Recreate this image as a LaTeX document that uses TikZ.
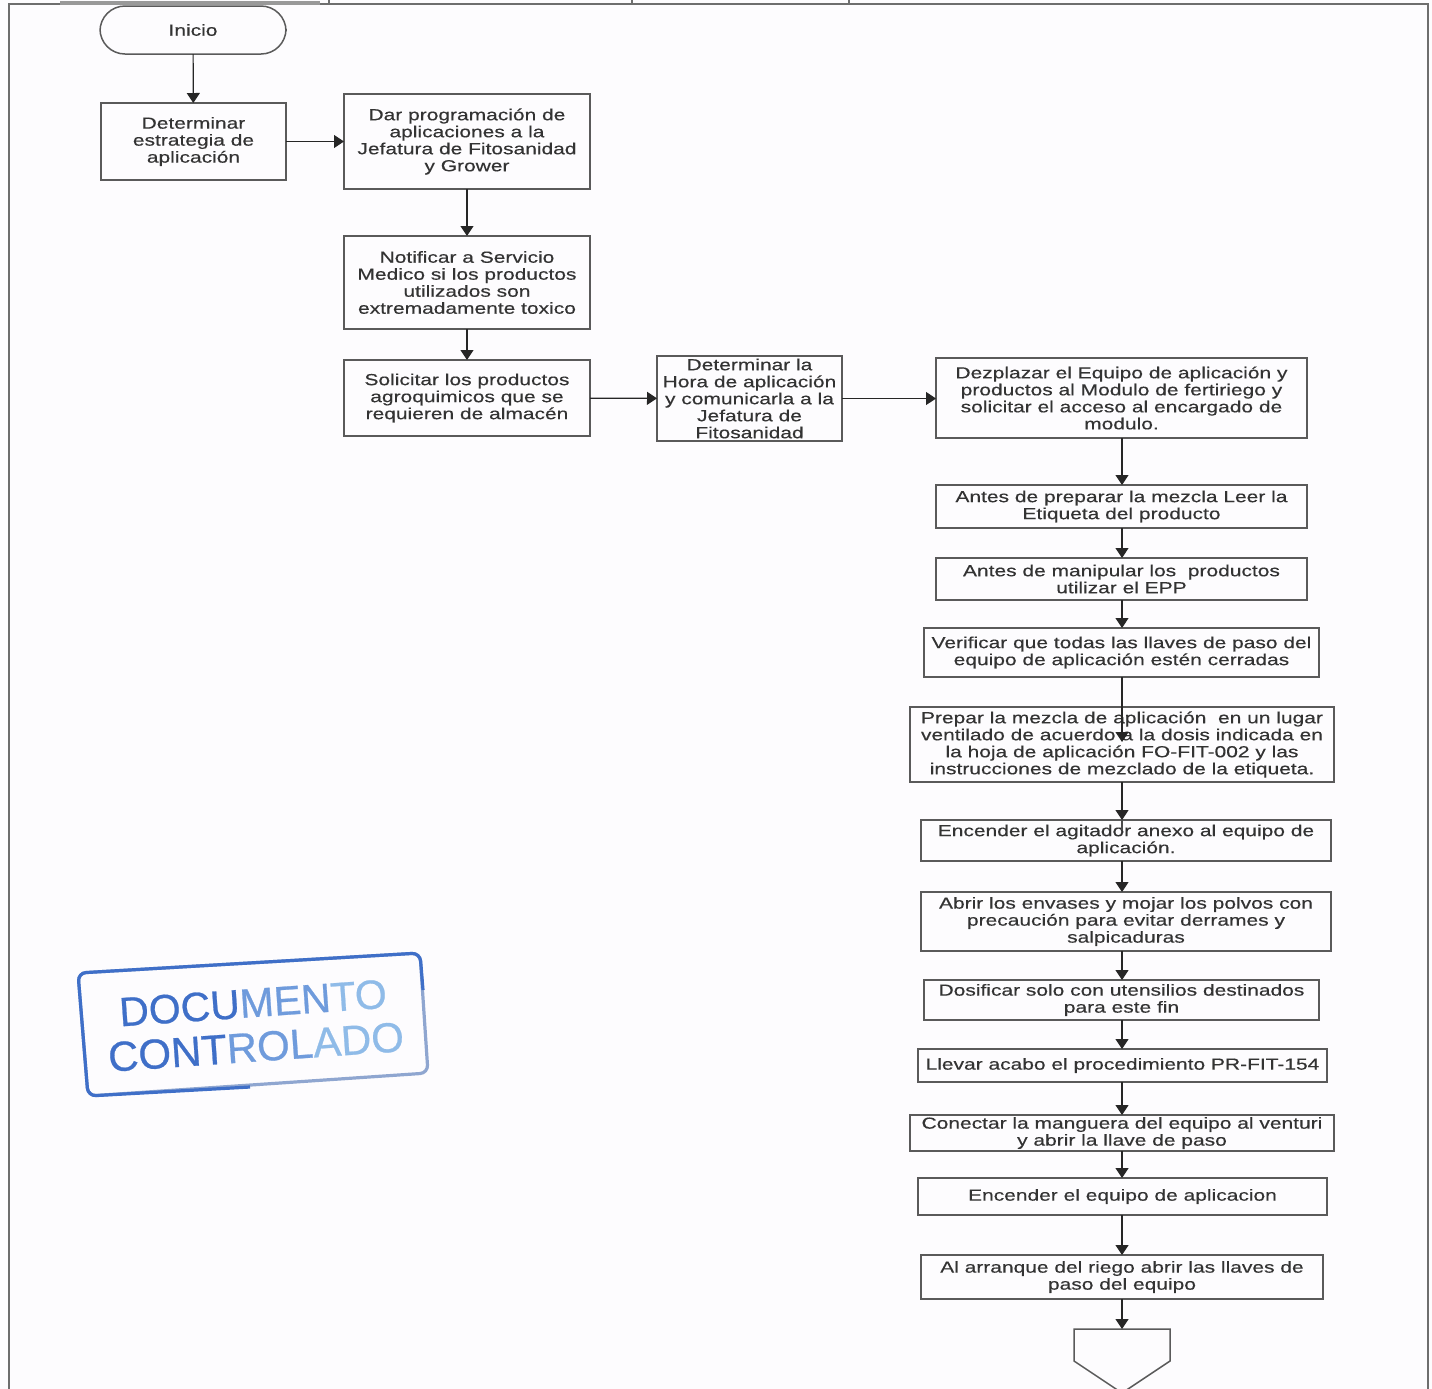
\documentclass[tikz,border=0pt]{standalone}
\usepackage{fontspec}
\setmainfont[FakeStretch=1.31,FakeBold=0.35]{Liberation Sans}
\newfontfamily\stampfont[FakeBold=0.6]{Liberation Sans}
\usetikzlibrary{arrows.meta}
\definecolor{ink}{HTML}{333333}
\definecolor{edge}{HTML}{5A5A5A}
\definecolor{framec}{HTML}{6E6E6E}
\definecolor{paper}{HTML}{FDFCFE}
\definecolor{stampa}{HTML}{3F6FC8}
\definecolor{stampb}{HTML}{6F9BDC}
\definecolor{stampc}{HTML}{8FBBE8}
\definecolor{stampd}{HTML}{8FA6D0}
\tikzset{
  flowbox/.style={draw=edge,line width=0.75pt,fill=paper,inner sep=0pt,outer sep=0pt,align=center,text=ink,font=\fontsize{8}{8.5}\selectfont},
  flowarrow/.style={draw=black!85,line width=0.6pt,-{Triangle[length=5pt,width=6.5pt]}},
  plainline/.style={draw=black!70,line width=0.6pt},
  framerule/.style={draw=framec,line width=1.1pt},
  stampborder/.style={line width=1.6pt,rounded corners=4pt},
  stamptext/.style={rotate=4,inner sep=0pt},
}
\newcommand\bx[7][]{\node[flowbox,#1,minimum width={(#5-#3)*0.5pt},minimum height={(#6-#4)*0.5pt}] (#2) at ({(#3+#5)/2},{(#4+#6)/2}) {#7};}
\begin{document}
\begin{tikzpicture}[x=0.5pt,y=-0.5pt]
\useasboundingbox (0,0) rectangle (1432,1389);
\fill[paper] (0,0) rectangle (1432,1389);
% page frame
\draw[framerule] (9,1389) -- (9,4) -- (1428,4) -- (1428,1389);
\draw[draw=framec!70,line width=1.8pt] (60,3) -- (320,3);
\draw[framerule] (329,0) -- (329,4);
\draw[framerule] (632,0) -- (632,4);
\draw[framerule] (849,0) -- (849,4);
% nodes
\bx[rounded corners=12.5pt]{inicio}{100}{6}{286}{54}{Inicio}
\bx{det}{101}{103}{286}{180}{Determinar\\estrategia de\\aplicación}
\bx{dar}{344}{94}{590}{189}{Dar programación de\\aplicaciones a la\\Jefatura de Fitosanidad\\y Grower}
\bx{not}{344}{236}{590}{329}{Notificar a Servicio\\Medico si los productos\\utilizados son\\extremadamente toxico}
\bx{sol}{344}{360}{590}{436}{Solicitar los productos\\agroquimicos que se\\requieren de almacén}
\bx{hora}{657}{356}{842}{441}{Determinar la\\Hora de aplicación\\y comunicarla a la\\Jefatura de\\Fitosanidad}
\bx{dez}{936}{358}{1307}{438}{Dezplazar el Equipo de aplicación y\\productos al Modulo de fertiriego y\\solicitar el acceso al encargado de\\modulo.}
\bx{antes}{936}{485}{1307}{528}{Antes de preparar la mezcla Leer la\\Etiqueta del producto}
\bx{man}{936}{558}{1307}{600}{Antes de manipular los \ productos\\utilizar el EPP}
\bx{ver}{924}{628}{1319}{677}{Verificar que todas las llaves de paso del\\equipo de aplicación estén cerradas}
\bx{prep}{910}{707}{1334}{782}{Prepar la mezcla de aplicación \ en un lugar\\ventilado de acuerdo a la dosis indicada en\\la hoja de aplicación FO-FIT-002 y las\\instrucciones de mezclado de la etiqueta.}
\bx{enc}{921}{820}{1331}{861}{Encender el agitador anexo al equipo de\\aplicación.}
\bx{abr}{921}{892}{1331}{951}{Abrir los envases y mojar los polvos con\\precaución para evitar derrames y\\salpicaduras}
\bx{dos}{924}{980}{1319}{1020}{Dosificar solo con utensilios destinados\\para este fin}
\bx{lle}{918}{1049}{1327}{1082}{Llevar acabo el procedimiento PR-FIT-154}
\bx{con}{910}{1115}{1334}{1151}{Conectar la manguera del equipo al venturi\\y abrir la llave de paso}
\bx{eq}{918}{1178}{1327}{1215}{Encender el equipo de aplicacion}
\bx{arr}{921}{1255}{1323}{1299}{Al arranque del riego abrir las llaves de\\paso del equipo}
% off-page connector
\coordinate (spine) at (1122,0);
\coordinate (off) at (1122,1329);
\coordinate (prepin) at (1122,742);
\coordinate (encin) at (1122,830);
\begin{scope}
\clip (0,0) rectangle (1432,1389);
\draw[draw=edge,line width=0.75pt] (1074,1329) -- (off) -- (1170,1329) -- (1170,1361) -- (1122,1393) -- (1074,1361) -- cycle;
\end{scope}
% connectors
\draw[flowarrow] (inicio) -- (det);
\draw[flowarrow] (det) -- (dar);
\draw[flowarrow] (dar) -- (not);
\draw[flowarrow] (not) -- (sol);
\draw[flowarrow] (sol) -- (hora);
\draw[flowarrow] (hora.east) -- (hora.east -| dez.west);
\draw[flowarrow] (dez.south -| spine) -- (antes.north -| spine);
\draw[flowarrow] (antes.south -| spine) -- (man.north -| spine);
\draw[flowarrow] (man.south -| spine) -- (ver.north -| spine);
\draw[flowarrow] (ver.south -| spine) -- (prepin);
\draw[flowarrow] (prep.south -| spine) -- (enc.north -| spine);
\draw[plainline] (enc.north -| spine) -- (encin);
\draw[flowarrow] (enc.south -| spine) -- (abr.north -| spine);
\draw[flowarrow] (abr.south -| spine) -- (dos.north -| spine);
\draw[flowarrow] (dos.south -| spine) -- (lle.north -| spine);
\draw[flowarrow] (lle.south -| spine) -- (con.north -| spine);
\draw[flowarrow] (con.south -| spine) -- (eq.north -| spine);
\draw[flowarrow] (eq.south -| spine) -- (arr.north -| spine);
\draw[flowarrow] (arr.south -| spine) -- (off);
% stamp
\draw[stampborder,draw=stampd] (78,973) -- (420,953) -- (428,1073) -- (88,1096) -- cycle;
\draw[stampborder,draw=stampa] (250,1087) -- (88,1096) -- (78,973) -- (420,953) -- (423,990);
\node[stamptext,font=\stampfont\fontsize{20.5}{20.5}\selectfont] (stamp1) at (253,1003) {\textcolor{stampa}{DOCU}\textcolor{stampb}{MEN}\textcolor{stampc}{TO}};
\node[stamptext,font=\stampfont\fontsize{21}{21}\selectfont] (stamp2) at (256,1047) {\textcolor{stampa}{CONT}\textcolor{stampb}{ROL}\textcolor{stampc}{ADO}};
\end{tikzpicture}
\end{document}
